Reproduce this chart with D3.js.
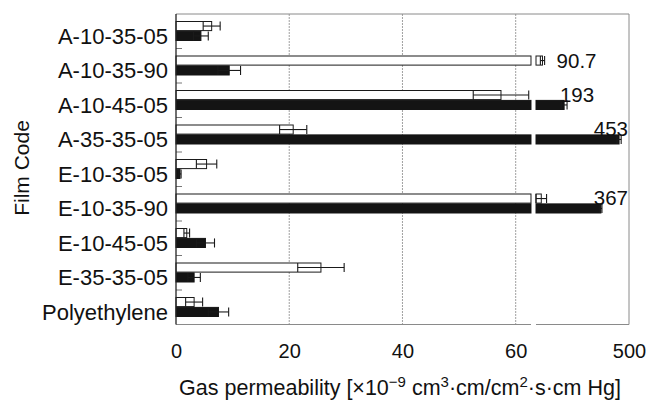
<!DOCTYPE html>
<html>
<head>
<meta charset="utf-8">
<script src="https://cdn.jsdelivr.net/npm/d3@7"></script>
<style>
  html, body { margin: 0; padding: 0; background: #fff; }
  svg { display: block; font-family: "Liberation Sans", Arial, sans-serif; }
</style>
</head>
<body>
<svg id="chart" width="650" height="401"></svg>
<script>
// ---- data ----
const categories = ["A-10-35-05", "A-10-35-90", "A-10-45-05", "A-35-35-05", "E-10-35-05",
                    "E-10-35-90", "E-10-45-05", "E-35-35-05", "Polyethylene"];
const whiteValues = [6.3, 90.7, 57.4, 20.7, 5.4, 85, 1.9, 25.6, 3.2];
const whiteErrors = [1.5, 10, 4.9, 2.4, 1.8, 25, 0.5, 4.1, 1.5];
const blackValues = [4.4, 9.4, 193, 453, 0.7, 367, 5.2, 3.2, 7.5];
const blackErrors = [1.3, 2.0, 14, 10, 0.2, 5, 1.6, 1.1, 1.8];
const whiteLabels = ["", "90.7", "", "", "", "", "", "", ""];
const blackLabels = ["", "", "193", "453", "", "367", "", "", ""];
const ticksLow = [0, 20, 40, 60];
const ticksHigh = [500];
const breakValue = 62.7;   // where the low segment is cut
const highStart = 60;      // value at start of the high segment

// ---- layout ----
const svg = d3.select("#chart");
const pLeft = 176, pRight = 629, pTop = 14, pBottom = 324.5;

const xL = d3.scaleLinear().domain([0, 60]).range([pLeft, 515.7]);
const breakPx = xL(breakValue);
const xR = d3.scaleLinear().domain([highStart, 500]).range([536, pRight]);
const pos = v => v <= breakValue ? xL(v) : xR(v);

const y0 = d3.scaleBand().domain(categories).range([pTop, pBottom]);
const y1 = d3.scaleBand().domain(["white", "black"]).range([7.5, 26.5]).paddingInner(0.08);

// gridlines
svg.append("g").selectAll("line").data(ticksLow.filter(d => d > 0)).join("line")
  .attr("x1", d => xL(d)).attr("x2", d => xL(d))
  .attr("y1", pTop).attr("y2", pBottom)
  .attr("stroke", "#a0a0a0").attr("stroke-width", 1).attr("stroke-dasharray", "2,1");

// frame
const frame = svg.append("g").attr("stroke", "#8a8a8a").attr("stroke-width", 1).attr("fill", "none");
frame.append("line").attr("x1", pLeft).attr("x2", pRight).attr("y1", pTop).attr("y2", pTop);
frame.append("line").attr("x1", pRight).attr("x2", pRight).attr("y1", pTop).attr("y2", pBottom);
frame.append("line").attr("x1", pLeft).attr("x2", breakPx).attr("y1", pBottom).attr("y2", pBottom);
frame.append("line").attr("x1", xR(highStart)).attr("x2", pRight).attr("y1", pBottom).attr("y2", pBottom);

// category ticks
svg.append("g").selectAll("line").data(categories.slice(1)).join("line")
  .attr("x1", pLeft).attr("x2", pLeft + 6)
  .attr("y1", d => y0(d)).attr("y2", d => y0(d))
  .attr("stroke", "#777").attr("stroke-width", 1);

// bars
const series = [
  {key: "white", values: whiteValues, errors: whiteErrors, labels: whiteLabels, fill: "#fff", stroke: "#1a1a1a"},
  {key: "black", values: blackValues, errors: blackErrors, labels: blackLabels, fill: "#141414", stroke: "#141414"}
];

series.forEach(s => {
  const g = svg.append("g");
  categories.forEach((c, i) => {
    const v = s.values[i], e = s.errors[i];
    const yb = y0(c) + y1(s.key), h = y1.bandwidth();
    const segs = v <= breakValue ? [[0, v, xL]] : [[0, breakValue, xL], [highStart, v, xR]];
    segs.forEach(([a, b, sc]) => {
      g.append("rect")
        .attr("x", sc(a)).attr("y", yb)
        .attr("width", Math.max(0, sc(b) - sc(a))).attr("height", h)
        .attr("fill", s.fill).attr("stroke", s.stroke).attr("stroke-width", 1);
    });
    // error bar
    const sc = v <= breakValue ? xL : xR;
    const lo = Math.max(sc.domain()[0], v - e);
    const x1 = sc(lo), x2 = sc(v + e), ym = yb + h / 2;
    const eg = g.append("g").attr("stroke", "#1a1a1a").attr("stroke-width", 1.1);
    eg.append("line").attr("x1", x1).attr("x2", x2).attr("y1", ym).attr("y2", ym);
    eg.append("line").attr("x1", x1).attr("x2", x1).attr("y1", yb).attr("y2", yb + h);
    eg.append("line").attr("x1", x2).attr("x2", x2).attr("y1", yb).attr("y2", yb + h);
    // value label
    if (s.labels[i]) {
      const t = g.append("text")
        .attr("font-size", 20.5).attr("fill", "#111")
        .text(s.labels[i]);
      if (s.key === "white") {
        t.attr("x", x2 + 12).attr("y", yb + h + 2.5).attr("text-anchor", "start");
      } else {
        t.attr("x", Math.min(pos(v) + 30, pRight - 1)).attr("y", yb + 1.5).attr("text-anchor", "end");
      }
    }
  });
});

// left axis line
svg.append("line").attr("x1", pLeft).attr("x2", pLeft).attr("y1", pTop).attr("y2", pBottom)
  .attr("stroke", "#222").attr("stroke-width", 1.3);

// x axis labels
const axL = d3.axisBottom(xL).tickValues(ticksLow).tickSize(0).tickPadding(19);
const axR = d3.axisBottom(xR).tickValues(ticksHigh).tickSize(0).tickPadding(19);
[axL, axR].forEach(ax => {
  const ga = svg.append("g").attr("transform", `translate(0,${pBottom})`).call(ax);
  ga.select(".domain").remove();
  ga.selectAll("text").attr("font-size", 20).attr("fill", "#111")
    .attr("font-family", "Liberation Sans, Arial, sans-serif");
});

// y category labels
svg.append("g").selectAll("text").data(categories).join("text")
  .attr("x", 168).attr("y", d => y0(d) + 22).attr("dy", "0.35em")
  .attr("text-anchor", "end").attr("font-size", 22).attr("fill", "#111")
  .text(d => d);

// axis titles
const title = svg.append("text").attr("x", 400).attr("y", 395)
  .attr("text-anchor", "middle").attr("font-size", 21.5).attr("fill", "#111");
title.append("tspan").text("Gas permeability [\u00d710");
title.append("tspan").attr("dy", -8).attr("font-size", 15).text("\u22129");
title.append("tspan").attr("dy", 8).text(" cm");
title.append("tspan").attr("dy", -8).attr("font-size", 15).text("3");
title.append("tspan").attr("dy", 8).text("\u00b7cm/cm");
title.append("tspan").attr("dy", -8).attr("font-size", 15).text("2");
title.append("tspan").attr("dy", 8).text("\u00b7s\u00b7cm Hg]");

svg.append("text").attr("transform", "translate(29,168) rotate(-90)")
  .attr("text-anchor", "middle").attr("font-size", 21).attr("fill", "#111")
  .text("Film Code");
</script>
</body>
</html>
